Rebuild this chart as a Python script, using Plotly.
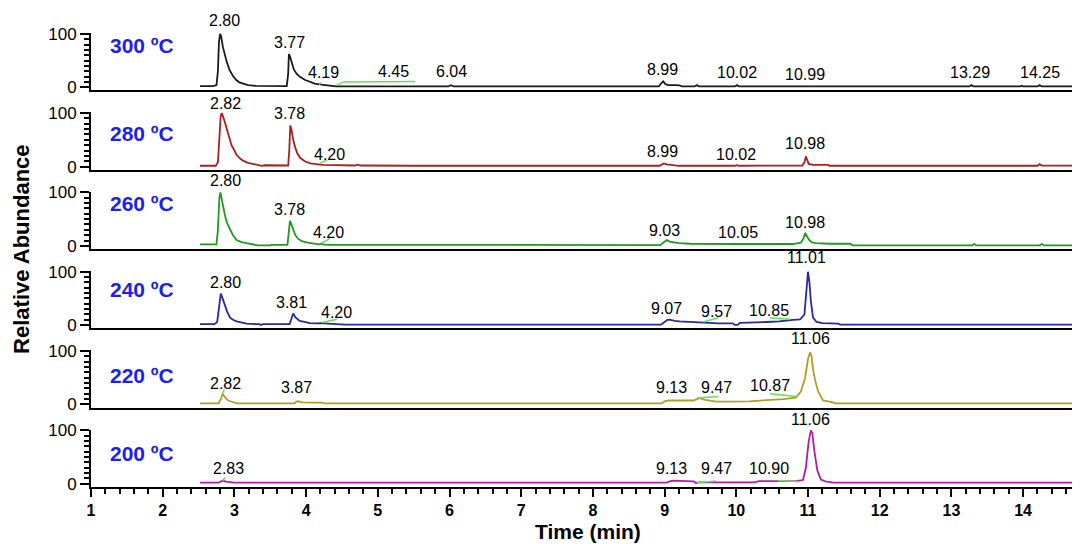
import plotly.graph_objects as go

# ---------------- data ----------------
temps = ["300 ºC", "280 ºC", "260 ºC", "240 ºC", "220 ºC", "200 ºC"]
temp_label_level = [78, 62, 80, 66, 55, 57]

tic_300 = [[2.52, 2], [2.70, 2], [2.75, 4], [2.77, 30], [2.785, 85], [2.80, 100], [2.815, 95], [2.84, 75],
           [2.89, 49], [2.93, 33], [2.98, 21], [3.03, 13], [3.07, 9], [3.13, 6], [3.19, 4], [3.30, 2.5],
           [3.50, 2], [3.73, 2], [3.75, 25], [3.76, 62], [3.775, 58], [3.80, 45], [3.83, 33], [3.87, 25],
           [3.91, 20], [3.98, 14], [4.05, 10], [4.12, 7], [4.17, 5.5], [4.19, 6.5], [4.21, 5], [4.26, 4],
           [4.33, 2.5], [4.42, 1.5], [5.20, 1.5], [5.98, 1.5], [6.02, 4], [6.06, 1.5], [7.50, 1.5],
           [8.92, 1.5], [8.95, 7], [8.98, 11], [9.01, 6], [9.05, 4], [9.15, 4], [9.21, 3.5], [9.24, 1.5],
           [9.42, 1.5], [9.45, 4], [9.48, 1.5], [9.98, 1.5], [10.01, 4], [10.04, 1.5], [11.00, 1.5],
           [13.25, 1.5], [13.28, 4], [13.31, 1.5], [13.96, 1.5], [13.98, 3], [14.00, 1.5], [14.20, 1.5],
           [14.23, 4], [14.26, 1.5], [14.79, 1.5]]

tic_280 = [[2.52, 1.5], [2.74, 1.5], [2.77, 8], [2.79, 55], [2.81, 96], [2.825, 100], [2.84, 95], [2.87, 82],
           [2.89, 72], [2.93, 52], [2.96, 40], [3.00, 30], [3.03, 22], [3.08, 15], [3.12, 11], [3.19, 7],
           [3.26, 4.5], [3.35, 2.5], [3.38, 1.5], [3.42, 2.5], [3.60, 2], [3.75, 2], [3.765, 30], [3.78, 77],
           [3.795, 70], [3.82, 50], [3.85, 35], [3.88, 24], [3.92, 16], [3.98, 10], [4.06, 6], [4.14, 4],
           [4.20, 3.5], [4.24, 3], [4.40, 2.5], [4.60, 2], [4.68, 2], [4.72, 3.5], [4.76, 2], [5.50, 1.5],
           [6.02, 1.5], [6.04, 2.5], [6.06, 1.5], [8.93, 1.5], [8.96, 4], [8.99, 6], [9.03, 4], [9.10, 3],
           [9.20, 1.5], [9.98, 1.5], [10.01, 2.5], [10.04, 1.5], [10.92, 2], [10.95, 8], [10.97, 19],
           [10.99, 12], [11.01, 5], [11.07, 3], [11.28, 3], [11.30, 1.5], [13.26, 1.5], [13.28, 2.5],
           [13.30, 1.5], [14.20, 1.5], [14.23, 4.5], [14.26, 2], [14.79, 1.5]]

tic_260 = [[2.52, 3], [2.70, 2], [2.75, 3], [2.77, 30], [2.79, 90], [2.805, 100], [2.82, 88], [2.85, 68],
           [2.87, 56], [2.90, 42], [2.94, 30], [2.98, 20], [3.03, 11], [3.10, 7], [3.17, 5], [3.25, 3],
           [3.31, 2], [3.33, 1], [3.50, 1], [3.52, 2], [3.74, 2], [3.76, 25], [3.775, 47], [3.79, 42],
           [3.82, 30], [3.85, 20], [3.89, 13], [3.94, 9], [4.02, 6], [4.10, 4], [4.18, 3], [4.21, 4],
           [4.25, 2.5], [4.33, 2], [5.00, 2], [5.50, 1.5], [8.94, 1.5], [8.98, 6], [9.03, 11], [9.07, 8],
           [9.12, 7], [9.20, 5], [9.36, 4], [9.60, 3.5], [10.05, 3.5], [10.50, 3.5], [10.79, 3.5],
           [10.90, 6], [10.94, 15], [10.96, 24], [10.98, 18], [11.01, 12], [11.05, 7], [11.10, 5],
           [11.30, 4], [11.59, 4], [11.62, 1], [13.29, 1], [13.32, 3.5], [13.35, 1], [14.23, 1],
           [14.26, 3.5], [14.29, 1], [14.70, 1], [14.73, 2.5], [14.76, 1], [14.79, 1]]

tic_240 = [[2.52, 2], [2.72, 2], [2.76, 6], [2.78, 30], [2.80, 55], [2.81, 59], [2.83, 52], [2.85, 43],
           [2.87, 37], [2.90, 25], [2.94, 14], [2.98, 10], [3.03, 7], [3.10, 5], [3.17, 3], [3.30, 2],
           [3.35, 2], [3.37, 0.5], [3.40, 2], [3.77, 2], [3.79, 10], [3.81, 20], [3.82, 22], [3.85, 15],
           [3.91, 8], [3.98, 6], [4.05, 4], [4.15, 3.5], [4.20, 4], [4.30, 3], [4.50, 2.5], [4.55, 1],
           [6.50, 1], [8.95, 1], [8.99, 5], [9.04, 10], [9.07, 10.5], [9.14, 8], [9.21, 7], [9.35, 6],
           [9.49, 5.5], [9.63, 4], [9.75, 3.5], [9.95, 3.5], [9.98, 0.5], [10.02, 0.5], [10.05, 4.5],
           [10.42, 6], [10.60, 7], [10.79, 10], [10.89, 11], [10.95, 20], [10.98, 70], [11.00, 100],
           [11.02, 80], [11.04, 45], [11.07, 14], [11.12, 6], [11.20, 4], [11.42, 3], [11.45, 1],
           [14.79, 1]]

tic_220 = [[2.52, 2], [2.78, 2], [2.81, 10], [2.835, 20], [2.86, 15], [2.90, 9], [2.94, 6], [2.99, 4],
           [3.04, 2], [3.84, 2], [3.86, 5], [3.89, 6], [3.95, 4], [4.10, 3.5], [4.22, 3.5], [4.25, 2],
           [8.96, 2], [9.00, 6], [9.05, 7.5], [9.20, 7.5], [9.40, 7.5], [9.45, 10], [9.49, 12], [9.55, 9],
           [9.72, 5.5], [10.18, 6], [10.45, 8], [10.65, 10], [10.83, 13], [10.90, 24], [10.96, 50],
           [11.00, 85], [11.03, 98], [11.05, 90], [11.07, 66], [11.10, 45], [11.14, 25], [11.21, 7.5],
           [11.35, 4], [11.38, 2], [14.79, 2]]

tic_200 = [[2.52, 2], [2.78, 2], [2.81, 4], [2.84, 6], [2.88, 4], [2.95, 2.5], [3.00, 2], [9.03, 2],
           [9.08, 5], [9.13, 6], [9.30, 5], [9.40, 4.5], [9.44, 1.5], [9.48, 2.5], [10.25, 2.5],
           [10.32, 5], [10.85, 5.5], [10.93, 7], [10.97, 30], [11.01, 80], [11.04, 100], [11.06, 95],
           [11.09, 60], [11.13, 25], [11.18, 8], [11.25, 4], [11.32, 3], [11.35, 2], [14.79, 2]]

chromatograms = [tic_300, tic_280, tic_260, tic_240, tic_220, tic_200]

# integration marks (green)
marks = [
    [[4.18, 5], [4.21, 9], None, [4.43, 4], [4.52, 10], [5.52, 11]],
    [[4.19, 6], [4.29, 12]],
    [[4.22, 5], [4.33, 14]],
    [[4.22, 5], [4.43, 11], None, [9.54, 6], [9.75, 14], None, [10.47, 14], [10.75, 11]],
    [[2.83, 20], [2.86, 28], None, [9.45, 12], [9.75, 15], None, [10.47, 20], [10.84, 15]],
    [[2.84, 6], [2.87, 12], None, [9.45, 2], [9.72, 5], None, [10.58, 6], [10.88, 4]],
]

# peak labels: text, label x (min), label level (relative abundance)
labels = [
    [["2.80", 2.855, 124], ["3.77", 3.775, 84], ["4.19", 4.236, 28], ["4.45", 5.212, 30], ["6.04", 6.021, 30],
     ["8.99", 8.97, 33], ["10.02", 10.01, 27], ["10.99", 10.96, 24], ["13.29", 13.26, 27], ["14.25", 14.24, 27]],
    [["2.82", 2.87, 118], ["3.78", 3.775, 99], ["4.20", 4.32, 22], ["8.99", 8.97, 28], ["10.02", 10.0, 23],
     ["10.98", 10.96, 44]],
    [["2.80", 2.87, 122], ["3.78", 3.775, 68], ["4.20", 4.31, 25], ["9.03", 9.005, 28], ["10.05", 10.03, 25],
     ["10.98", 10.96, 44]],
    [["2.80", 2.87, 80], ["3.81", 3.80, 43], ["4.20", 4.43, 24], ["9.07", 9.03, 31], ["9.57", 9.73, 25],
     ["10.85", 10.46, 28], ["11.01", 10.98, 126]],
    [["2.82", 2.87, 39], ["3.87", 3.87, 31], ["9.13", 9.10, 32], ["9.47", 9.73, 31], ["10.87", 10.47, 36],
     ["11.06", 11.03, 123]],
    [["2.83", 2.915, 28], ["9.13", 9.10, 28], ["9.47", 9.72, 28], ["10.90", 10.46, 28], ["11.06", 11.03, 120]],
]

colors = ["#1a1a1a", "#a82020", "#1f9a1f", "#2828a0", "#b0a022", "#b01cb0"]
x_ticks = list(range(1, 15))

# ---------------- layout geometry ----------------
# page body has an 8px margin: convert screen pixels to figure pixels
OFF = 8
W, Hpx = 1080, 544
L = 91 - OFF
R = OFF
ppu = 0.535              # pixels per abundance unit
y_lo, y_hi = -6, 101.5
base_px = [87.3 - OFF + 79.34 * k for k in range(6)]   # y=0 of each panel (figure px)
top_px = base_px[0] - y_hi * ppu
bot_px = base_px[5] - y_lo * ppu
T = top_px
B = Hpx - bot_px
plot_h = bot_px - top_px
plot_w = W - L - R
x_range = [1, 1 + plot_w / 71.7]

FONT = "Liberation Sans, Arial, sans-serif"

fig = go.Figure()
layout = dict(
    width=W, height=Hpx, margin=dict(l=L, r=R, t=T, b=B, pad=0),
    paper_bgcolor="white", plot_bgcolor="white", showlegend=False,
    font=dict(family=FONT, color="black"),
)
annotations = []

for k in range(6):
    n = "" if k == 0 else str(k + 1)
    xa, ya = "x" + n, "y" + n
    bottom = base_px[k] - y_lo * ppu
    top = base_px[k] - y_hi * ppu
    dom = [(bot_px - bottom) / plot_h, (bot_px - top) / plot_h]
    dom = [max(0, dom[0]), min(1, dom[1])]

    pts = chromatograms[k]
    fig.add_trace(go.Scatter(x=[p[0] for p in pts], y=[p[1] for p in pts], mode="lines",
                             line=dict(color=colors[k], width=1.8), xaxis=xa, yaxis=ya,
                             hoverinfo="skip"))
    mk = marks[k]
    fig.add_trace(go.Scatter(x=[p[0] if p else None for p in mk], y=[p[1] if p else None for p in mk],
                             mode="lines", line=dict(color="#66dd55", width=1.5), xaxis=xa, yaxis=ya,
                             hoverinfo="skip", connectgaps=False))

    last = (k == 5)
    layout["xaxis" + n] = dict(
        domain=[0, 1], anchor=ya, range=x_range, showgrid=False, zeroline=False,
        showline=True, linecolor="black", linewidth=2,
        ticks="outside" if last else "", tickvals=x_ticks if last else [],
        ticklen=8, tickwidth=1.5, tickcolor="black",
        showticklabels=last,
        tickfont=dict(size=16, family=FONT, color="black", weight="bold"),
        minor=dict(dtick=0.2, tick0=1, ticks="outside", ticklen=5, tickwidth=1.5, tickcolor="black")
        if last else dict(ticks=""),
        fixedrange=True,
    )
    if k > 0:
        layout["xaxis" + n]["matches"] = "x"
    layout["yaxis" + n] = dict(
        domain=dom, anchor=xa, range=[y_lo, y_hi], showgrid=False, zeroline=False,
        showline=True, linecolor="black", linewidth=2,
        tickmode="array", tickvals=[0, 100], ticktext=["0", "100"],
        ticks="outside", ticklen=9, tickwidth=1.5, tickcolor="black",
        tickfont=dict(size=17, family=FONT, color="black"),
        minor=dict(tickmode="array", tickvals=list(range(10, 100, 10)), ticks="outside",
                   ticklen=5, tickwidth=1.5, tickcolor="black"),
        fixedrange=True,
    )

    for txt, lx, ly in labels[k]:
        yy = min(ly, 100)
        annotations.append(dict(x=lx, y=yy, yshift=(ly - yy) * ppu, xref=xa, yref=ya, text=txt,
                                showarrow=False, xanchor="center", yanchor="middle",
                                font=dict(size=16, family=FONT, color="black")))
    annotations.append(dict(x=1.237, y=temp_label_level[k], xref=xa, yref=ya, text=temps[k],
                            showarrow=False, xanchor="left", yanchor="middle",
                            font=dict(size=21, family=FONT, color="#1e1ef0", weight="bold")))

# axis titles (positions given in screen pixels, converted to paper fractions)
annotations.append(dict(x=(22 - OFF - L) / plot_w, y=(bot_px - (250 - OFF)) / plot_h,
                        xref="paper", yref="paper", text="Relative Abundance", textangle=-90,
                        showarrow=False, xanchor="center", yanchor="middle",
                        font=dict(size=22, family=FONT, color="black", weight="bold")))
annotations.append(dict(x=(588 - OFF - L) / plot_w, y=(bot_px - (532 - OFF)) / plot_h,
                        xref="paper", yref="paper", text="Time (min)", showarrow=False,
                        xanchor="center", yanchor="middle",
                        font=dict(size=21, family=FONT, color="black", weight="bold")))

layout["annotations"] = annotations
fig.update_layout(**layout)
fig.write_html("out.html")
